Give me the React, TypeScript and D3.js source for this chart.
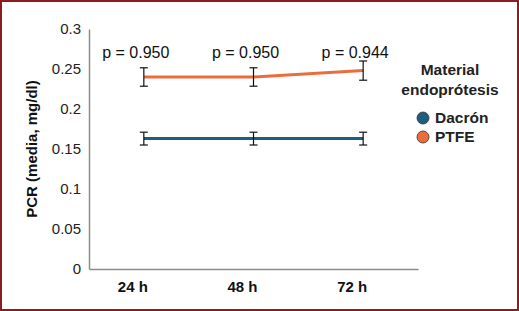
import { useEffect, useRef } from "react";
import * as d3 from "d3";

const categories = ["24 h", "48 h", "72 h"];
const seriesNames = ["Dacrón", "PTFE"];
const dacronMeans = [0.163, 0.163, 0.163];
const dacronErrors = [0.008, 0.008, 0.008];
const ptfeMeans = [0.24, 0.24, 0.248];
const ptfeErrors = [0.0115, 0.0115, 0.012];
const pLabels = ["p = 0.950", "p = 0.950", "p = 0.944"];
const yTicks = [0, 0.05, 0.1, 0.15, 0.2, 0.25, 0.3];

const palette: Record<string, string> = {
	"Dacrón": "#1d5d7e",
	PTFE: "#ec6d3c"
};

const width = 519;
const height = 311;
const font = "Liberation Sans, Arial, sans-serif";

export default function App() {
	const svgRef = useRef<SVGSVGElement>(null);

	useEffect(() => {
		document.body.style.margin = "0";
		if (!svgRef.current) {
			return;
		}
		const svg = d3.select(svgRef.current);
		svg.selectAll("*").remove();

		const margin = { top: 29, right: 101, bottom: 42, left: 89 };
		const innerWidth = width - margin.left - margin.right;
		const innerHeight = height - margin.top - margin.bottom;

		svg
			.append("rect")
			.attr("x", 1)
			.attr("y", 1)
			.attr("width", width - 2)
			.attr("height", height - 2)
			.attr("fill", "#fff")
			.attr("stroke", "#8e1b1f")
			.attr("stroke-width", 2);

		const content = svg.append("g").attr("transform", `translate(${margin.left},${margin.top})`);

		const xScale = d3.scaleBand().domain(categories).range([0, innerWidth]).padding(0);
		const yScale = d3.scaleLinear().domain([0, 0.3]).range([innerHeight, 0]);
		const cx = (c: string) => (xScale(c) ?? 0) + xScale.bandwidth() / 2;

		// axes
		content
			.append("g")
			.attr("transform", `translate(0,${innerHeight})`)
			.call(d3.axisBottom(xScale).tickSize(0))
			.call((g) => g.select(".domain").attr("stroke", "#8c8c8c").attr("stroke-width", 1.5))
			.selectAll("text")
			.attr("font-family", font)
			.attr("font-size", 15)
			.attr("font-weight", 700)
			.attr("fill", "#111")
			.attr("dx", "-11")
			.attr("dy", "1.3em");

		content
			.append("g")
			.call(
				d3
					.axisLeft(yScale)
					.tickValues(yTicks)
					.tickSize(0)
					.tickFormat((v) => `${+(+v).toFixed(2)}`)
			)
			.call((g) => g.select(".domain").attr("stroke", "#8c8c8c").attr("stroke-width", 1.5))
			.selectAll("text")
			.attr("font-family", font)
			.attr("font-size", 15)
			.attr("fill", "#222")
			.attr("dx", "-5");

		svg
			.append("text")
			.attr("transform", `translate(37,149) rotate(-90)`)
			.attr("text-anchor", "middle")
			.attr("font-family", font)
			.attr("font-size", 15)
			.attr("font-weight", 700)
			.attr("fill", "#111")
			.text("PCR (media, mg/dl)");

		const series = [
			{ name: seriesNames[0], means: dacronMeans, errors: dacronErrors },
			{ name: seriesNames[1], means: ptfeMeans, errors: ptfeErrors }
		];

		const line = d3
			.line<number>()
			.x((_, i) => cx(categories[i]))
			.y((d) => yScale(d));

		series.forEach((s) => {
			content
				.append("path")
				.datum(s.means)
				.attr("fill", "none")
				.attr("stroke", palette[s.name])
				.attr("stroke-width", 3)
				.attr("d", line);

			const bars = content
				.append("g")
				.selectAll("g")
				.data(s.means.map((m, i) => ({ m, e: s.errors[i], c: categories[i] })))
				.join("g")
				.attr("stroke", "#111")
				.attr("stroke-width", 1.2);
			bars
				.append("line")
				.attr("x1", (d) => cx(d.c))
				.attr("x2", (d) => cx(d.c))
				.attr("y1", (d) => yScale(d.m + d.e))
				.attr("y2", (d) => yScale(d.m - d.e));
			[1, -1].forEach((sign) => {
				bars
					.append("line")
					.attr("x1", (d) => cx(d.c) - 4)
					.attr("x2", (d) => cx(d.c) + 4)
					.attr("y1", (d) => yScale(d.m + sign * d.e))
					.attr("y2", (d) => yScale(d.m + sign * d.e));
			});
		});

		content
			.append("g")
			.selectAll("text")
			.data(pLabels)
			.join("text")
			.attr("x", (_, i) => cx(categories[i]) - 8)
			.attr("y", 29)
			.attr("text-anchor", "middle")
			.attr("font-family", font)
			.attr("font-size", 16)
			.attr("fill", "#111")
			.text((d) => d);

		// legend
		const legend = svg.append("g").attr("font-family", font).attr("font-size", 15.5).attr("fill", "#222");
		legend
			.append("text")
			.attr("x", 450)
			.attr("y", 75)
			.attr("text-anchor", "middle")
			.attr("font-weight", 700)
			.text("Material");
		legend
			.append("text")
			.attr("x", 450)
			.attr("y", 95)
			.attr("text-anchor", "middle")
			.attr("font-weight", 700)
			.text("endoprótesis");

		const items = legend
			.selectAll("g.item")
			.data(seriesNames)
			.join("g")
			.attr("class", "item")
			.attr("transform", (_, i) => `translate(423,${118 + i * 19})`);
		items
			.append("circle")
			.attr("r", 6)
			.attr("fill", (d) => palette[d])
			.attr("stroke", "#333")
			.attr("stroke-width", 0.8);
		items
			.append("text")
			.attr("x", 12)
			.attr("dy", "0.35em")
			.attr("font-weight", 700)
			.text((d) => d);
	}, []);

	return <svg ref={svgRef} width={width} height={height} style={{ display: "block" }} />;
}
